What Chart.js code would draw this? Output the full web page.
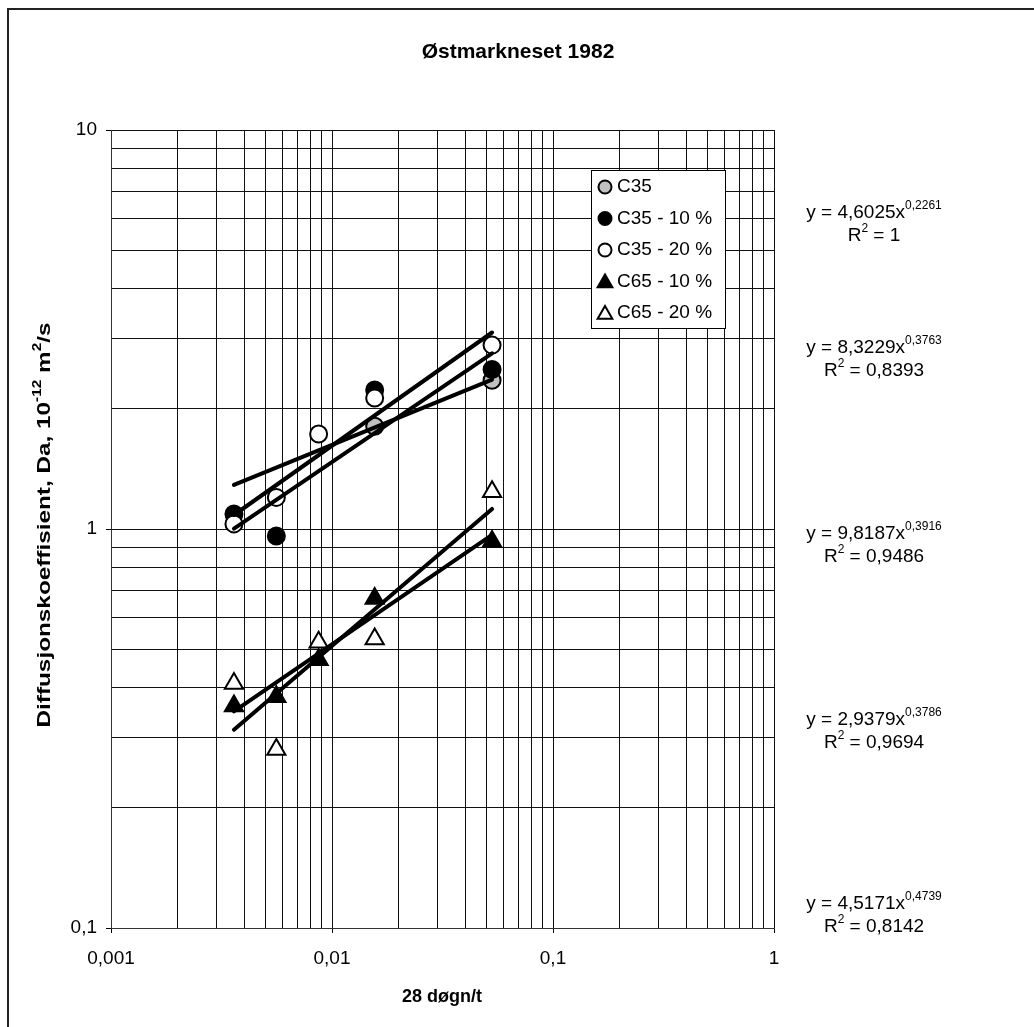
<!DOCTYPE html>
<html>
<head>
<meta charset="utf-8">
<title>Østmarkneset 1982</title>
<script src="https://cdn.jsdelivr.net/npm/chart.js@4.4.1/dist/chart.umd.min.js"></script>
<style>
  html, body { margin: 0; padding: 0; background: #fff; }
  #wrap { width: 1034px; height: 1027px; position: relative; }
</style>
</head>
<body>
<div id="wrap"><canvas id="chart" width="1034" height="1027"></canvas></div>
<script>
// Exposure (28 døgn / t) for each measurement
const exposure = [0.0036, 0.0056, 0.0087, 0.0156, 0.053];

// Diffusion coefficient Da (10^-12 m²/s) per series; null = no measurement
const c35    = [null, null, null, 1.81, 2.36];
const c35_10 = [1.09, 0.96, null, 2.23, 2.51];
const c35_20 = [1.03, 1.20, 1.73, 2.13, 2.89];
const c65_10 = [0.36, 0.38, 0.47, 0.67, 0.93];
const c65_20 = [0.41, 0.28, 0.52, 0.53, 1.24];

const seriesNames = ['C35', 'C35 - 10 %', 'C35 - 20 %', 'C65 - 10 %', 'C65 - 20 %'];

// Power trendlines y = a·x^b with their R²
const trendCoef = [4.6025, 8.3229, 9.8187, 2.9379, 4.5171];
const trendExp  = [0.2261, 0.3763, 0.3916, 0.3786, 0.4739];
const trendR2   = ['1', '0,8393', '0,9486', '0,9694', '0,8142'];

// Axis decades and their labels
const xDecades = [0.001, 0.01, 0.1, 1];
const xDecadeLabels = ['0,001', '0,01', '0,1', '1'];
const yDecades = [0.1, 1, 10];
const yDecadeLabels = ['0,1', '1', '10'];

const FONT = "'Liberation Sans', Arial, sans-serif";

// gridlines at 1..9 × each decade
function logGrid(decades) {
  const out = [];
  for (let i = 0; i < decades.length - 1; i++) {
    for (let m = 1; m <= 9; m++) out.push(+(decades[i] * m).toPrecision(6));
  }
  out.push(decades[decades.length - 1]);
  return out;
}
function decadeIndex(decades, v) {
  return decades.findIndex(d => Math.abs(d - v) / d < 1e-6);
}
function points(values) {
  const pts = [];
  values.forEach((v, i) => { if (v !== null) pts.push({ x: exposure[i], y: v }); });
  return pts;
}
function trend(i) {
  const x0 = Math.min(...exposure), x1 = Math.max(...exposure);
  return [x0, x1].map(x => ({ x, y: trendCoef[i] * Math.pow(x, trendExp[i]) }));
}

const styles = [
  { pointStyle: 'circle',   radius: 8.5, fill: '#c0c0c0' },
  { pointStyle: 'circle',   radius: 8.5, fill: '#000000' },
  { pointStyle: 'circle',   radius: 8.5, fill: '#ffffff' },
  { pointStyle: 'triangle', radius: 10.5, fill: '#000000' },
  { pointStyle: 'triangle', radius: 10.5, fill: '#ffffff' }
];
const seriesValues = [c35, c35_10, c35_20, c65_10, c65_20];

const datasets = [];
// trendlines on top of the markers
seriesValues.forEach((_, i) => {
  datasets.push({
    label: 'trend ' + seriesNames[i],
    data: trend(i),
    showLine: true,
    borderColor: '#000',
    borderWidth: 4,
    borderCapStyle: 'round',
    pointRadius: 0,
    order: 0
  });
});
seriesValues.forEach((vals, i) => {
  datasets.push({
    label: seriesNames[i],
    data: points(vals),
    showLine: false,
    pointStyle: styles[i].pointStyle,
    pointRadius: styles[i].radius,
    pointHoverRadius: styles[i].radius,
    backgroundColor: styles[i].fill,
    borderColor: '#000',
    borderWidth: 2,
    order: 10 - i
  });
});

// text runs with optional superscript parts
function runWidth(ctx, parts, size, bold) {
  let w = 0;
  parts.forEach(p => {
    ctx.font = (bold ? 'bold ' : '') + (p.sup ? Math.round(size * 0.62) : size) + 'px ' + FONT;
    w += ctx.measureText(p.t).width;
  });
  return w;
}
function drawRun(ctx, parts, x, y, size, bold) {
  ctx.textBaseline = 'middle';
  ctx.textAlign = 'left';
  let cx = x;
  parts.forEach(p => {
    ctx.font = (bold ? 'bold ' : '') + (p.sup ? Math.round(size * 0.62) : size) + 'px ' + FONT;
    ctx.fillText(p.t, cx, p.sup ? y - size * 0.38 : y);
    cx += ctx.measureText(p.t).width;
  });
}

const decor = {
  id: 'decor',
  beforeDraw(chart) {
    const ctx = chart.ctx;
    ctx.save();
    ctx.fillStyle = '#fff';
    ctx.fillRect(0, 0, chart.width, chart.height);
    // outer chart frame
    ctx.strokeStyle = '#222';
    ctx.lineWidth = 2;
    ctx.strokeRect(8, 9, chart.width + 10, chart.height + 10);
    ctx.restore();
  },
  afterDraw(chart) {
    const ctx = chart.ctx;
    ctx.save();
    ctx.fillStyle = '#000';

    // title
    ctx.font = 'bold 21px ' + FONT;
    ctx.textAlign = 'center';
    ctx.textBaseline = 'middle';
    ctx.fillText('Østmarkneset 1982', 518, 52);

    // x axis title
    ctx.font = 'bold 18px ' + FONT;
    ctx.fillText('28 døgn/t', 442, 997);

    // y axis title (rotated, slightly stretched along its baseline)
    const yParts = [
      { t: 'Diffusjonskoeffisient, Da, 10' }, { t: '-12', sup: true },
      { t: ' m' }, { t: '2', sup: true }, { t: '/s' }
    ];
    ctx.save();
    ctx.translate(45, 525);
    ctx.rotate(-Math.PI / 2);
    const yw = runWidth(ctx, yParts, 19, true);
    const stretch = 405 / yw;
    ctx.scale(stretch, 1);
    drawRun(ctx, yParts, -yw / 2, 0, 19, true);
    ctx.restore();

    // legend
    const lx = 591.5, ly = 170.5, lw = 134, lh = 158;
    ctx.fillStyle = '#fff';
    ctx.fillRect(lx, ly, lw, lh);
    ctx.strokeStyle = '#000';
    ctx.lineWidth = 1;
    ctx.strokeRect(lx, ly, lw, lh);
    seriesNames.forEach((name, i) => {
      const cy = 187 + i * 31.5;
      ctx.fillStyle = styles[i].fill;
      ctx.strokeStyle = '#000';
      ctx.lineWidth = 2;
      Chart.helpers.drawPoint(ctx, {
        pointStyle: styles[i].pointStyle,
        radius: styles[i].pointStyle === 'circle' ? 6.5 : 8.5,
        borderWidth: 2,
        rotation: 0
      }, 605, cy + (styles[i].pointStyle === 'triangle' ? 1.5 : 0));
      ctx.fillStyle = '#000';
      ctx.font = '19px ' + FONT;
      ctx.textAlign = 'left';
      ctx.textBaseline = 'middle';
      ctx.fillText(name, 617, cy);
    });

    // trendline equations
    const eqY = [213, 348, 534, 720, 904];
    seriesNames.forEach((_, i) => {
      const eq = [
        { t: 'y = ' + String(trendCoef[i]).replace('.', ',') + 'x' },
        { t: String(trendExp[i]).replace('.', ','), sup: true }
      ];
      const ew = runWidth(ctx, eq, 19, false);
      ctx.fillStyle = '#000';
      drawRun(ctx, eq, 874 - ew / 2, eqY[i], 19, false);
      const r2 = [{ t: 'R' }, { t: '2', sup: true }, { t: ' = ' + trendR2[i] }];
      const rw = runWidth(ctx, r2, 19, false);
      drawRun(ctx, r2, 874 - rw / 2, eqY[i] + 23, 19, false);
    });
    ctx.restore();
  }
};

const tickColor = (decades) => (c) =>
  (c.tick && decadeIndex(decades, c.tick.value) >= 0) ? '#000' : 'rgba(0,0,0,0)';

new Chart(document.getElementById('chart'), {
  type: 'scatter',
  data: { datasets },
  options: {
    responsive: false,
    animation: false,
    devicePixelRatio: 1,
    layout: { padding: { left: 0, right: 260, top: 130, bottom: 0 } },
    plugins: { legend: { display: false }, title: { display: false }, tooltip: { enabled: false } },
    scales: {
      x: {
        type: 'logarithmic',
        position: 'bottom',
        min: 0.001,
        max: 1,
        afterBuildTicks: s => { s.ticks = logGrid(xDecades).map(v => ({ value: v })); },
        afterFit: s => { s.height = 99; },
        ticks: {
          autoSkip: false,
          maxRotation: 0,
          padding: 14,
          color: '#000',
          font: { family: FONT, size: 19 },
          callback: v => { const k = decadeIndex(xDecades, v); return k >= 0 ? xDecadeLabels[k] : ''; }
        },
        grid: { color: '#111', lineWidth: 1, tickLength: 5, tickColor: tickColor(xDecades) },
        border: { color: '#333', width: 1 }
      },
      y: {
        type: 'logarithmic',
        position: 'left',
        min: 0.1,
        max: 10,
        afterBuildTicks: s => { s.ticks = logGrid(yDecades).map(v => ({ value: v })); },
        afterFit: s => { s.width = 111; },
        ticks: {
          autoSkip: false,
          padding: 9,
          color: '#000',
          font: { family: FONT, size: 19 },
          callback: v => { const k = decadeIndex(yDecades, v); return k >= 0 ? yDecadeLabels[k] : ''; }
        },
        grid: { color: '#111', lineWidth: 1, tickLength: 5, tickColor: tickColor(yDecades) },
        border: { color: '#333', width: 1 }
      }
    }
  },
  plugins: [decor]
});
</script>
</body>
</html>
